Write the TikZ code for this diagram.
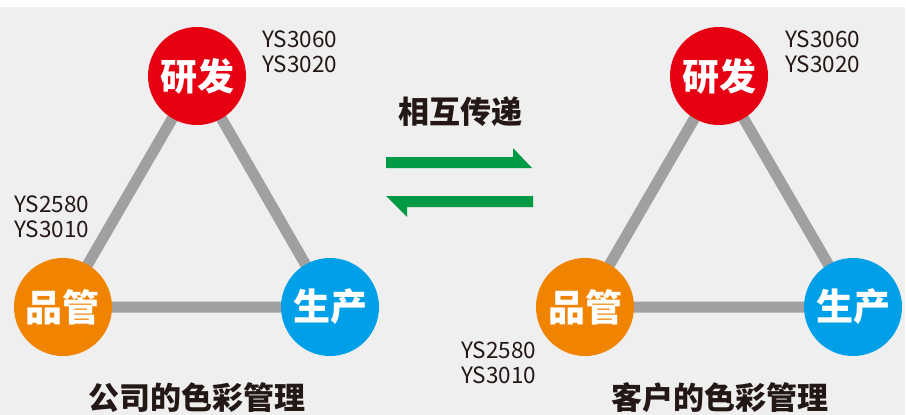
\documentclass[tikz,border=0pt]{standalone}
\usepackage{fontspec}
\setmainfont{Noto Sans CJK SC}
\usetikzlibrary{positioning,backgrounds}
\definecolor{yfred}{HTML}{E60012}
\definecolor{pgorange}{HTML}{F08300}
\definecolor{scblue}{HTML}{00A0E9}
\definecolor{arrowgreen}{HTML}{009944}
\definecolor{linkgray}{HTML}{A0A0A0}
\definecolor{bggray}{HTML}{EFEFEF}
\definecolor{inkdark}{HTML}{231815}
\tikzset{
    node style ball/.style={circle,minimum size=98pt,inner sep=0pt,text=white,%
        font=\fontsize{37}{37}\selectfont\bfseries},
    line style link/.style={draw=linkgray,line width=11pt},
    node style code/.style={align=left,anchor=west,inner sep=0pt,text=inkdark,%
        font=\fontsize{22.5}{25}\selectfont},
    node style title/.style={inner sep=0pt,text=inkdark,%
        font=\fontsize{31}{31}\selectfont\bfseries},
}

\begin{document}
\begin{tikzpicture}[x=1pt,y=-1pt]
\useasboundingbox (0,0) rectangle (906,415);

% company side
\node [node style ball,fill=yfred]    (yfL) at (197,76)  {研发};
\node [node style ball,fill=pgorange] (pgL) at (63,307)  {品管};
\node [node style ball,fill=scblue]   (scL) at (330,307) {生产};

% customer side
\node [node style ball,fill=yfred]    (yfR) at (719,76)  {研发};
\node [node style ball,fill=pgorange] (pgR) at (585,307) {品管};
\node [node style ball,fill=scblue]   (scR) at (853,307) {生产};

% codes
\node [node style code] (codeYL) at (262,51.5)  {YS3060\\YS3020};
\node [node style code] (codePL) at (14,216.5)  {YS2580\\YS3010};
\node [node style code] (codeYR) at (785,51.5)  {YS3060\\YS3020};
\node [node style code] (codePR) at (461,363)   {YS2580\\YS3010};

% titles
\node [node style title] (titleL) at (197,398) {公司的色彩管理};
\node [node style title] (titleR) at (720,398) {客户的色彩管理};
\node [node style title] (swap)   at (460,112) {相互传递};

% exchange arrows
\fill [arrowgreen] (386,157) -- (513,157) -- (513,148) -- (532,168) -- (386,168) -- cycle;
\fill [arrowgreen] (386,196) -- (533,196) -- (533,207) -- (407,207) -- (407,217) -- cycle;

\begin{scope}[on background layer]
\fill [white] (0,0) rectangle (906,415);
\fill [bggray] (0,7) rectangle (905,415);
% links
\draw [line style link] (yfL.center) -- (pgL.center) -- (scL.center) -- cycle;
\draw [line style link] (yfR.center) -- (pgR.center) -- (scR.center) -- cycle;
\end{scope}
\end{tikzpicture}
\end{document}
